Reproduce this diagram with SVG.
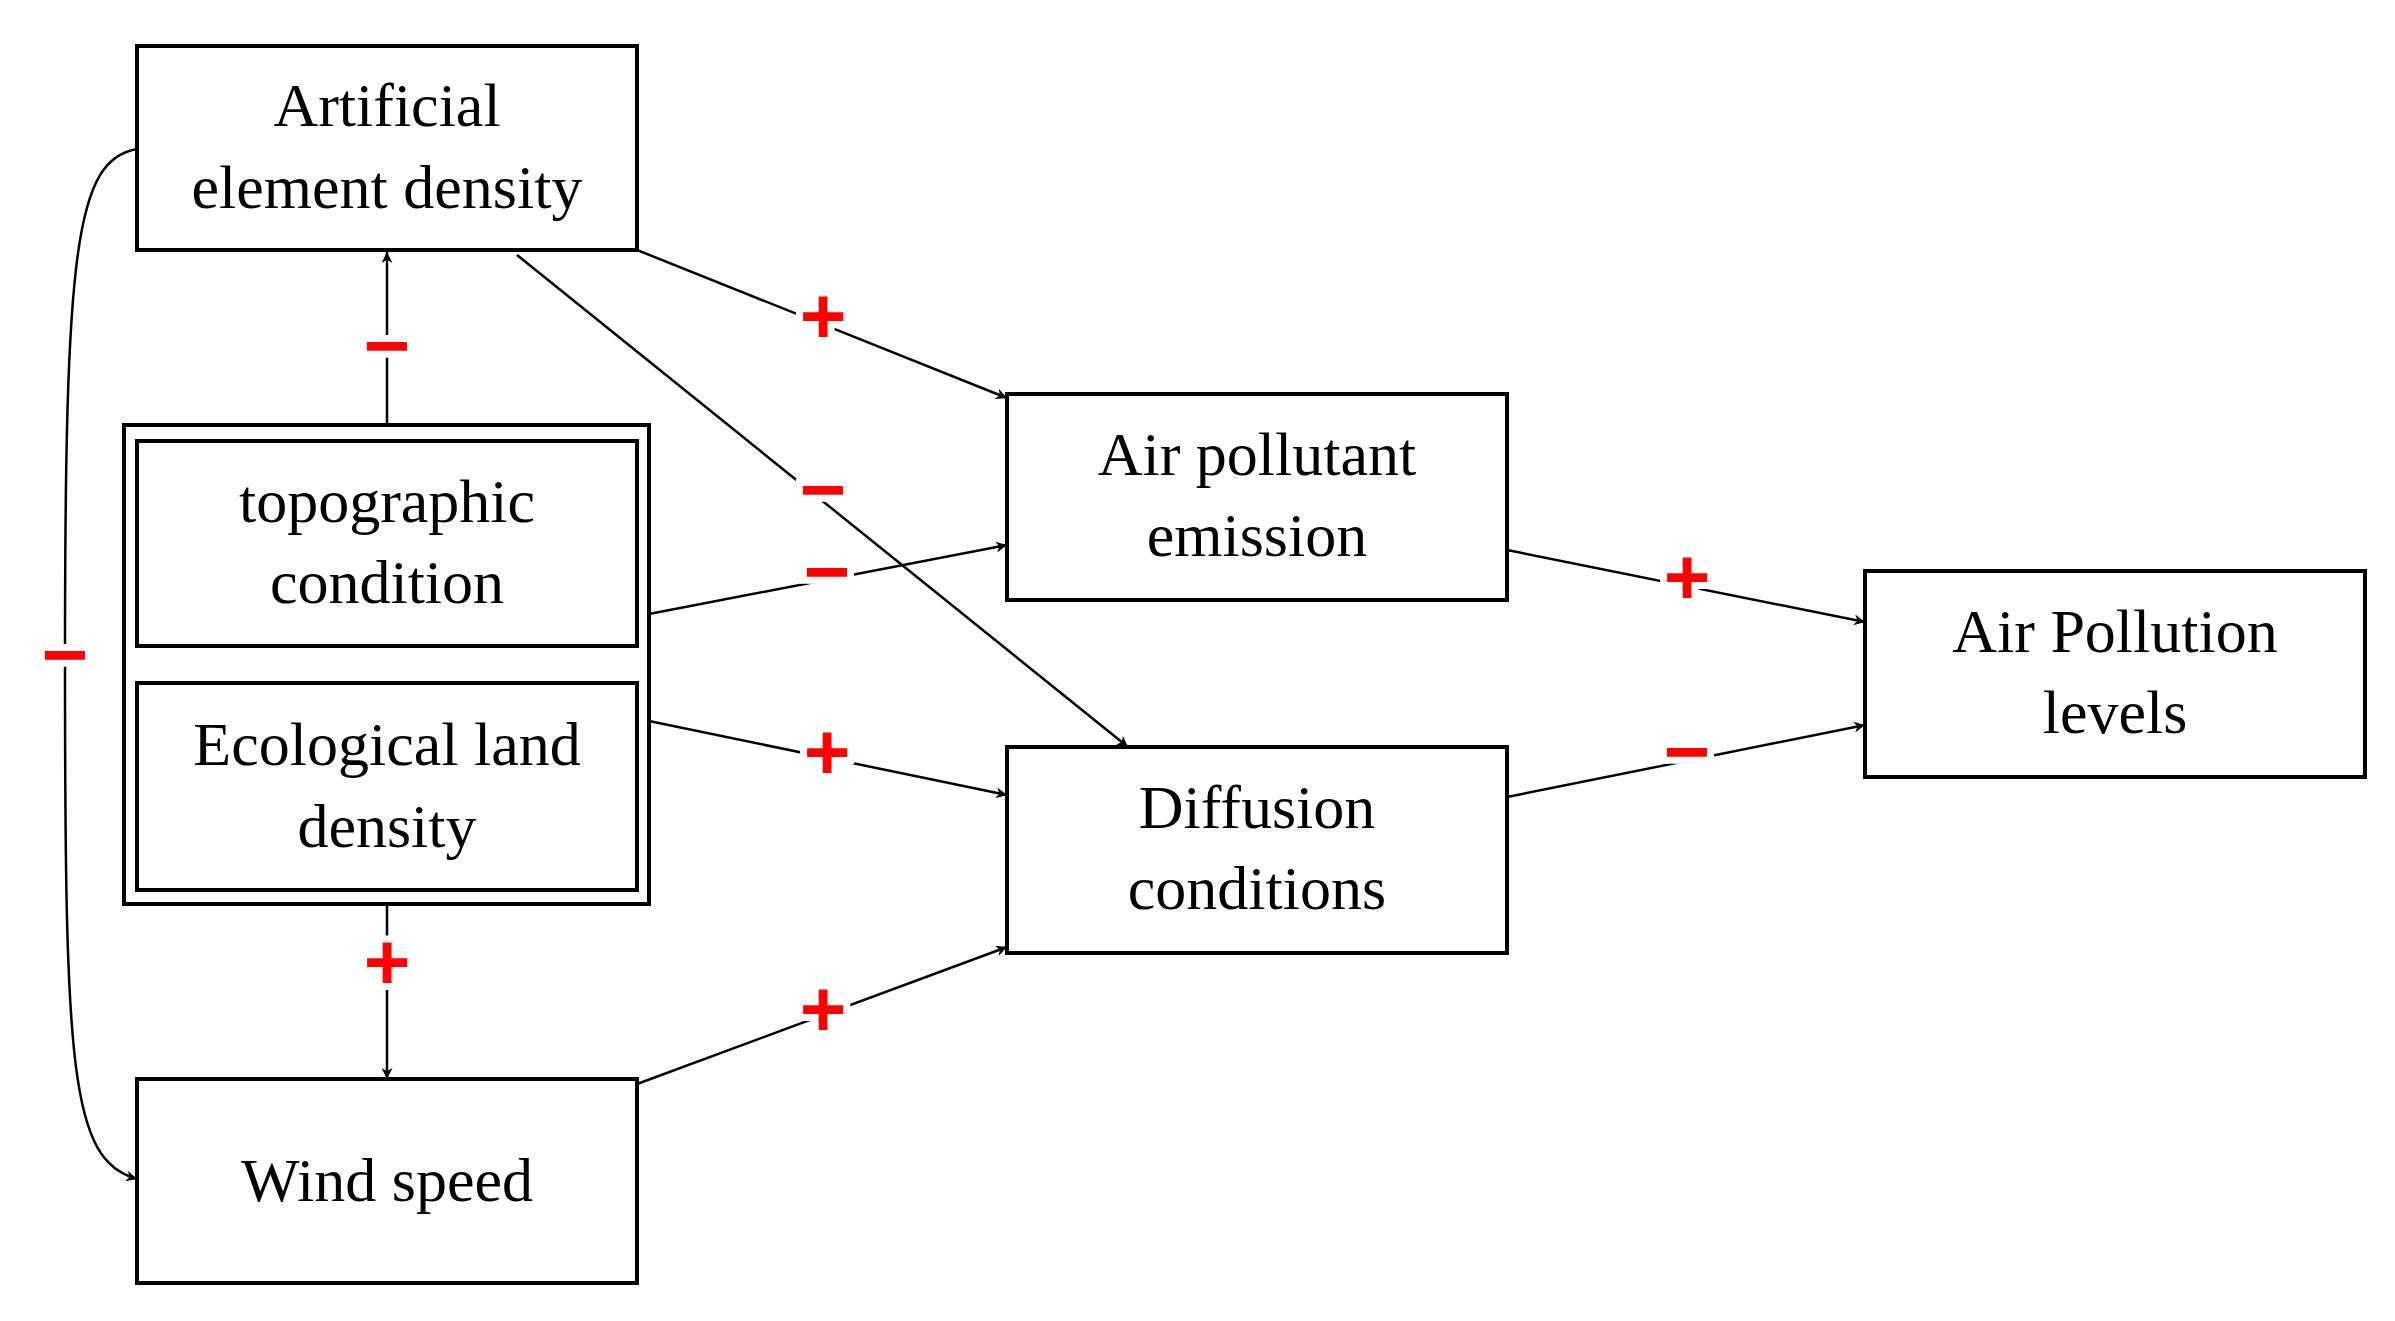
<svg xmlns="http://www.w3.org/2000/svg" width="2395" height="1321" viewBox="0 0 2395 1321">
<defs>
<style>
.b{fill:#fff;stroke:#000;stroke-width:4}
.t{font-family:"Liberation Serif",serif;font-size:62px;text-anchor:middle;fill:#000}
.c{fill:none;stroke:#000;stroke-width:2.5}
.s{font-family:"Liberation Sans",sans-serif;font-weight:bold;font-size:80px;fill:#f00;text-anchor:middle;stroke:#fff;stroke-width:14px;paint-order:stroke}
</style>
<marker id="a" viewBox="0 0 10 10" refX="10" refY="5" markerWidth="11" markerHeight="11" markerUnits="userSpaceOnUse" orient="auto"><path d="M0,0L10,5L0,10L3,5z" fill="#000"/></marker>
</defs>
<rect width="2395" height="1321" fill="#fff"/>
<g id="connectors">
<line class="c" x1="637" y1="250" x2="1007" y2="398" marker-end="url(#a)"/>
<line class="c" x1="517" y1="255" x2="1128" y2="747" marker-end="url(#a)"/>
<line class="c" x1="649" y1="614" x2="1007" y2="545" marker-end="url(#a)"/>
<line class="c" x1="649" y1="721" x2="1007" y2="795" marker-end="url(#a)"/>
<line class="c" x1="637" y1="1084" x2="1007" y2="947" marker-end="url(#a)"/>
<line class="c" x1="1507" y1="550" x2="1865" y2="622" marker-end="url(#a)"/>
<line class="c" x1="1507" y1="797" x2="1865" y2="725" marker-end="url(#a)"/>
<line class="c" x1="387" y1="425" x2="387" y2="252" marker-end="url(#a)"/>
<line class="c" x1="387" y1="904" x2="387" y2="1079" marker-end="url(#a)"/>
<path class="c" d="M137,149 C75,160 65,250 65,660 C65,1070 70,1160 137,1179" marker-end="url(#a)"/>
<text class="s" x="823" y="343">+</text>
<text class="s" x="823" y="517">−</text>
<text class="s" x="827" y="599">−</text>
<text class="s" x="827" y="779">+</text>
<text class="s" x="823" y="1036">+</text>
<text class="s" x="1687" y="604">+</text>
<text class="s" x="1687" y="779">−</text>
<text class="s" x="387" y="373">−</text>
<text class="s" x="387" y="989">+</text>
<text class="s" x="65" y="682">−</text>
</g>
<g id="artificial"><rect class="b" x="137" y="46" width="500" height="204"/><text class="t" x="387" y="126">Artificial</text><text class="t" x="387" y="208">element density</text></g>
<g id="group"><rect class="b" x="124" y="425" width="525" height="479"/></g>
<g id="topographic"><rect class="b" x="137" y="441" width="500" height="205"/><text class="t" x="387" y="522">topographic</text><text class="t" x="387" y="603">condition</text></g>
<g id="ecological"><rect class="b" x="137" y="683" width="500" height="207"/><text class="t" x="387" y="765">Ecological land</text><text class="t" x="387" y="847">density</text></g>
<g id="wind"><rect class="b" x="137" y="1079" width="500" height="204"/><text class="t" x="387" y="1201">Wind speed</text></g>
<g id="emission"><rect class="b" x="1007" y="394" width="500" height="206"/><text class="t" x="1257" y="475">Air pollutant</text><text class="t" x="1257" y="556">emission</text></g>
<g id="diffusion"><rect class="b" x="1007" y="747" width="500" height="206"/><text class="t" x="1257" y="828">Diffusion</text><text class="t" x="1257" y="909">conditions</text></g>
<g id="levels"><rect class="b" x="1865" y="571" width="500" height="206"/><text class="t" x="2115" y="652">Air Pollution</text><text class="t" x="2115" y="733">levels</text></g>
</svg>
